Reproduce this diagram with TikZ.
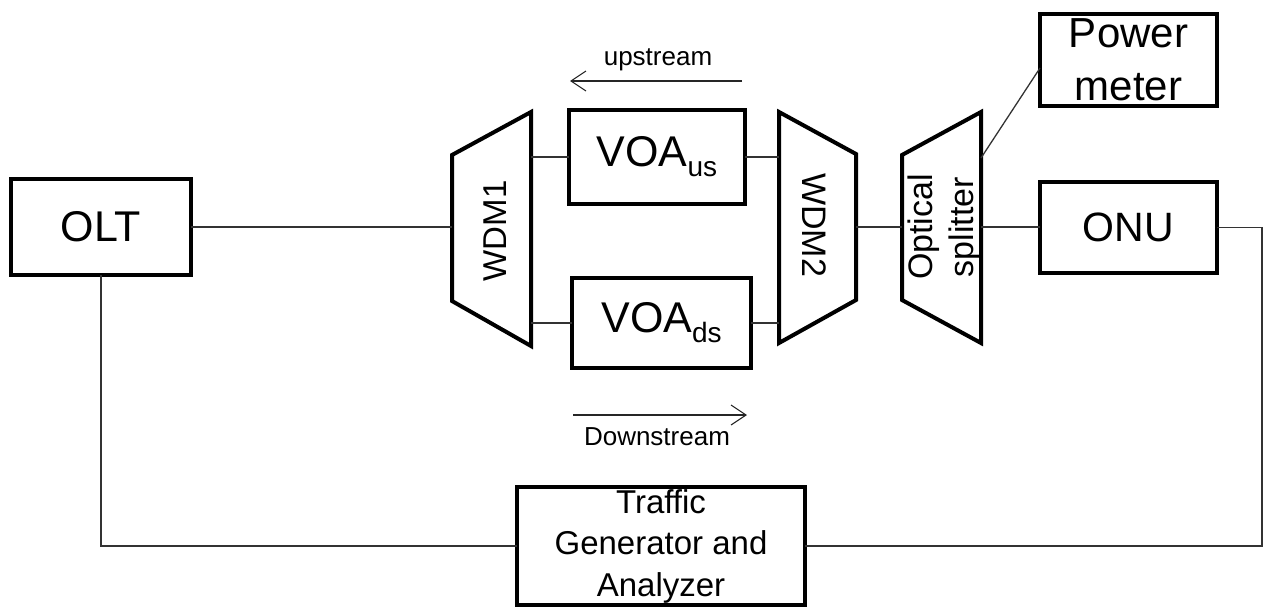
\documentclass[tikz,border=0pt]{standalone}
\usepackage{fontspec}
\setmainfont{Liberation Sans}
\usetikzlibrary{arrows.meta,calc}
\begin{document}
\begin{tikzpicture}[x=1pt,y=-1pt,
  box/.style={draw, line width=4pt, rectangle, inner sep=0pt, outer sep=0pt, align=center},
  dev/.style={draw, line width=4pt, line join=miter},
  conn/.style={line width=1.3pt, draw=black!80},
  flow/.style={line width=1.1pt, draw=black!85, -{Straight Barb[length=15pt,width=20pt,line width=1.1pt]}},
  lbl/.style={font=\fontsize{26}{30}\selectfont, anchor=base, inner sep=0pt},
]
\useasboundingbox (0,0) rectangle (1265,611);

% boxes
\node[box, minimum width=180pt, minimum height=96pt, font=\fontsize{43}{50}\selectfont] (olt) at (101,227) {OLT};
\node[box, minimum width=176pt, minimum height=94pt, font=\fontsize{43}{50}\selectfont] (vus) at (657,157) {VOA\raisebox{-10pt}{\fontsize{28}{28}\selectfont us}};
\node[box, minimum width=179pt, minimum height=90pt, font=\fontsize{43}{50}\selectfont] (vds) at (661.5,323) {VOA\raisebox{-10pt}{\fontsize{28}{28}\selectfont ds}};
\node[box, minimum width=177pt, minimum height=92pt, font=\fontsize{42}{53}\selectfont] (pm) at (1128.5,60) {Power\\meter};
\node[box, minimum width=177pt, minimum height=91pt, font=\fontsize{41}{48}\selectfont] (onu) at (1128.5,227.5) {ONU};
\node[box, minimum width=288pt, minimum height=118pt, font=\fontsize{33}{41.5}\selectfont] (tg) at (661,546) {Traffic\\Generator and\\Analyzer};

% WDM1
\draw[dev] (452,155) -- (531,112) -- (531,346) -- (452,301) -- cycle;
\coordinate (w1L) at (452,228);
\coordinate (w1R) at (531,228);
\node[rotate=90, inner sep=0pt, font=\fontsize{33}{40}\selectfont] (w1) at (495,231) {WDM1};

% WDM2
\draw[dev] (779,112) -- (856,154) -- (856,300) -- (779,343) -- cycle;
\coordinate (w2L) at (779,228);
\coordinate (w2R) at (856,227);
\node[rotate=-90, inner sep=0pt, font=\fontsize{34}{40}\selectfont] (w2) at (814,225) {WDM2};

% Optical splitter
\draw[dev] (902,155) -- (981,112) -- (981,343) -- (902,300) -- cycle;
\coordinate (spL) at (902,227);
\coordinate (spR) at (981,227);
\coordinate (spT) at (981,158);
\node[rotate=90, inner sep=0pt, align=center, font=\fontsize{34}{41}\selectfont] (sp) at (944,227) {Optical\\splitter};

% connectors
\draw[conn] (olt.east) -- (olt.east -| w1L);
\draw[conn] (w1R |- vus.west) -- (vus.west);
\draw[conn] (w1R |- vds.west) -- (vds.west);
\draw[conn] (vus.east) -- (vus.east -| w2L);
\draw[conn] (vds.east) -- (vds.east -| w2L);
\draw[conn] (w2R) -- (spL);
\draw[conn] (spR) -- (spR -| onu.west);
\draw[conn] (spT) -- ($(pm.west)+(0,8)$);
\coordinate (cR) at (1262,546);
\draw[conn] (onu.east) -| (cR) -- (tg.east);
\draw[conn] (olt.south) |- (tg.west);

% flow arrows
\coordinate (upA) at (742,81);
\coordinate (upB) at (570,81);
\draw[flow] (upA) -- (upB);
\node[lbl] (upl) at (658,65) {upstream};
\coordinate (dnA) at (573,415);
\coordinate (dnB) at (747,415);
\draw[flow] (dnA) -- (dnB);
\node[lbl] (dnl) at (657,445) {Downstream};
\end{tikzpicture}
\end{document}
